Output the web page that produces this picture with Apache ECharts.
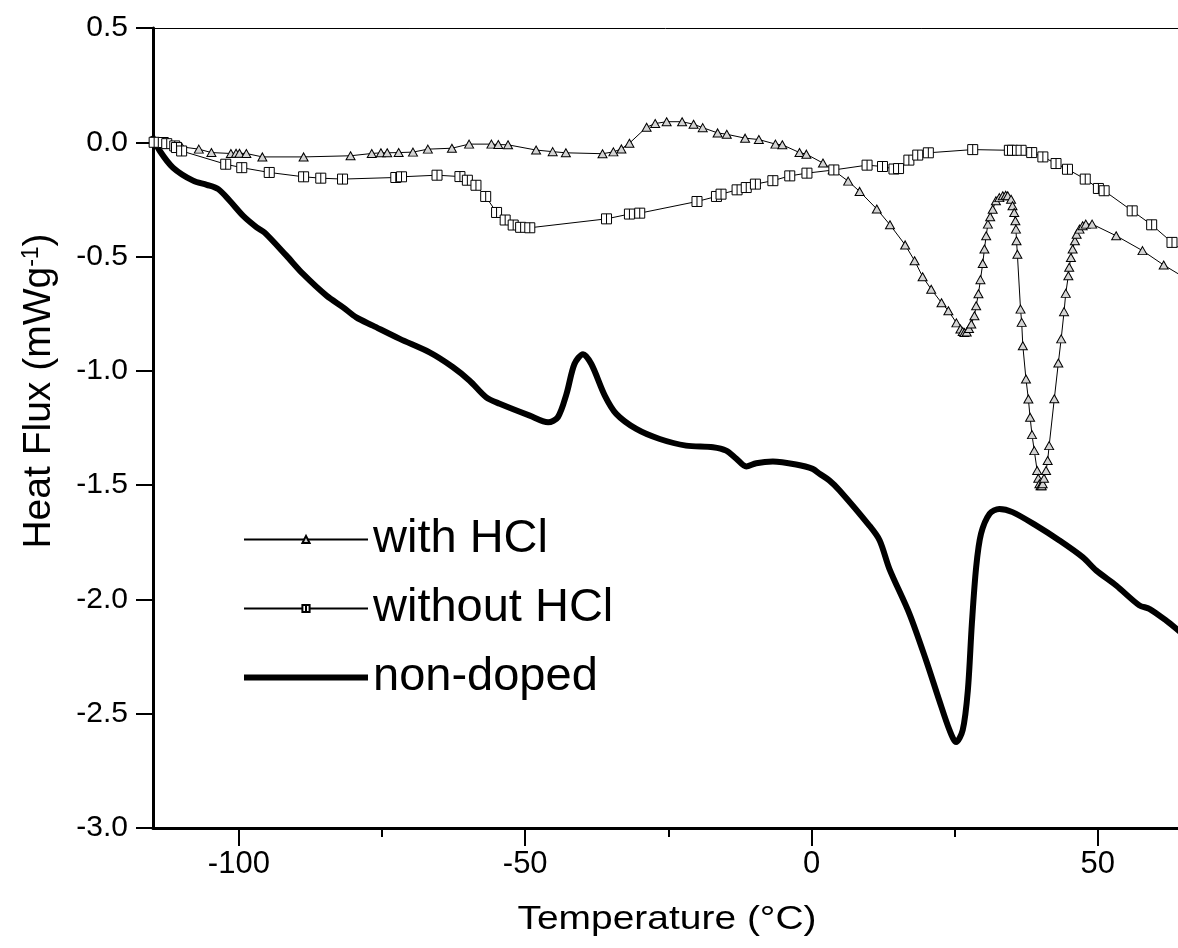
<!DOCTYPE html>
<html>
<head>
<meta charset="utf-8">
<script src="https://cdn.jsdelivr.net/npm/echarts@6/dist/echarts.min.js"></script>
<style>
  html, body { margin: 0; padding: 0; background: #fff; }
  #chart { width: 1178px; height: 948px; }
</style>
</head>
<body>
<div id="chart"></div>
<script>
// tick positions on the temperature axis
var xMajorTicks = [-100, -50, 0, 50];
var xMinorTicks = [-75, -25, 25];

// [temperature, heat flux]
var withHcl = [
  [-114.6, 0.00], [-112.5, -0.01], [-110.0, -0.02], [-107.0, -0.03], [-104.8, -0.045],
  [-101.4, -0.049], [-100.5, -0.048], [-99.9, -0.048], [-98.7, -0.049], [-95.9, -0.064],
  [-88.7, -0.064], [-80.5, -0.059], [-76.8, -0.049], [-75.2, -0.046], [-74.1, -0.046],
  [-72.1, -0.045], [-69.6, -0.043], [-67.0, -0.030], [-62.8, -0.026], [-59.8, -0.008],
  [-55.9, -0.008], [-54.7, -0.010], [-53.0, -0.011], [-48.1, -0.034], [-45.2, -0.041],
  [-42.9, -0.046], [-36.5, -0.050], [-34.6, -0.042], [-33.2, -0.029], [-31.8, -0.004],
  [-28.8, 0.066], [-27.3, 0.082], [-25.3, 0.090], [-22.6, 0.090], [-20.6, 0.079],
  [-19.0, 0.064], [-16.4, 0.041], [-14.8, 0.035], [-11.6, 0.018], [-9.2, 0.012],
  [-6.3, -0.008], [-5.1, -0.011], [-2.1, -0.045], [-0.9, -0.052], [2.0, -0.091],
  [3.7, -0.120], [6.4, -0.170], [8.4, -0.215], [11.4, -0.292], [13.7, -0.361],
  [16.35, -0.449], [18.0, -0.518], [19.4, -0.588], [20.9, -0.643], [22.7, -0.702],
  [23.9, -0.737], [25.3, -0.790], [26.0, -0.817], [26.4, -0.828], [26.7, -0.832],
  [27.1, -0.830], [27.5, -0.815], [27.9, -0.795], [28.45, -0.759], [28.75, -0.715],
  [29.15, -0.663], [29.5, -0.601], [29.9, -0.530], [30.2, -0.467], [30.5, -0.409],
  [30.8, -0.358], [31.2, -0.326], [31.64, -0.293], [32.2, -0.256], [32.8, -0.242],
  [33.4, -0.234], [33.9, -0.232], [34.26, -0.234], [34.85, -0.249], [35.1, -0.278],
  [35.4, -0.307], [35.6, -0.343], [35.7, -0.380], [35.8, -0.431], [35.95, -0.490],
  [36.5, -0.730], [36.7, -0.788], [36.9, -0.890], [37.45, -1.036], [37.87, -1.123],
  [38.17, -1.203], [38.5, -1.279], [38.9, -1.349], [39.4, -1.436], [39.6, -1.470],
  [39.8, -1.494], [40.0, -1.503], [40.2, -1.503], [40.37, -1.494], [40.6, -1.470],
  [40.96, -1.436], [41.24, -1.392], [41.5, -1.327], [42.4, -1.122], [43.1, -0.966],
  [43.6, -0.860], [44.1, -0.741], [44.4, -0.661], [44.85, -0.584], [45.0, -0.547],
  [45.3, -0.504], [45.6, -0.467], [46.0, -0.431], [46.3, -0.402], [46.8, -0.380],
  [47.35, -0.365], [47.9, -0.358], [49.0, -0.358], [53.2, -0.409], [57.8, -0.474],
  [61.5, -0.537], [65.0, -0.590]
];

var withoutHcl = [
  [-114.8, 0.00], [-113.2, -0.001], [-112.6, -0.006], [-111.2, -0.016], [-110.9, -0.023],
  [-110.0, -0.038], [-102.3, -0.096], [-99.5, -0.111], [-94.7, -0.132], [-88.7, -0.151],
  [-85.7, -0.157], [-81.9, -0.161], [-72.6, -0.154], [-71.6, -0.151], [-65.4, -0.144],
  [-61.4, -0.150], [-60.1, -0.166], [-58.6, -0.188], [-56.9, -0.237], [-55.0, -0.307],
  [-53.5, -0.340], [-52.1, -0.362], [-50.8, -0.372], [-49.2, -0.374], [-35.8, -0.335],
  [-31.8, -0.314], [-30.0, -0.310], [-20.0, -0.259], [-16.6, -0.237], [-15.8, -0.227],
  [-13.0, -0.208], [-11.4, -0.198], [-9.8, -0.183], [-6.75, -0.168], [-3.8, -0.147],
  [-0.8, -0.135], [3.9, -0.121], [9.7, -0.100], [12.4, -0.106], [14.4, -0.117],
  [15.2, -0.115], [17.0, -0.078], [18.55, -0.056], [20.4, -0.046], [28.15, -0.032],
  [34.55, -0.035], [35.1, -0.035], [36.6, -0.035], [38.45, -0.045], [40.4, -0.064],
  [42.7, -0.093], [44.7, -0.118], [47.8, -0.161], [50.1, -0.202], [51.1, -0.212],
  [56.0, -0.300], [59.4, -0.361], [62.95, -0.438], [66.0, -0.500]
];

var nonDoped = [
  [-115.2, 0.028], [-113.8, -0.038], [-111.5, -0.111], [-108.0, -0.168], [-105.6, -0.186],
  [-103.6, -0.205], [-101.6, -0.256], [-99.25, -0.322], [-96.9, -0.372], [-95.5, -0.395],
  [-91.7, -0.496], [-88.8, -0.576], [-84.7, -0.671], [-81.8, -0.722], [-79.5, -0.766],
  [-76.6, -0.802], [-71.9, -0.860], [-66.7, -0.919], [-62.6, -0.984], [-59.7, -1.043],
  [-56.8, -1.116], [-54.45, -1.144], [-49.2, -1.196], [-46.0, -1.225], [-44.3, -1.203],
  [-42.8, -1.102], [-41.4, -0.970], [-39.9, -0.927], [-38.45, -0.970], [-36.1, -1.108],
  [-34.1, -1.188], [-30.6, -1.254], [-26.5, -1.298], [-21.9, -1.327], [-17.2, -1.334],
  [-14.9, -1.349], [-13.1, -1.385], [-11.4, -1.418], [-9.65, -1.404], [-6.75, -1.397],
  [-2.7, -1.410], [0.2, -1.429], [1.4, -1.450], [3.1, -1.479], [4.9, -1.523],
  [10.1, -1.677], [11.9, -1.742], [13.6, -1.866], [17.1, -2.063], [20.0, -2.266],
  [22.3, -2.441], [24.1, -2.572], [25.25, -2.624], [26.4, -2.572], [27.3, -2.398],
  [28.0, -2.107], [28.75, -1.859], [29.6, -1.713], [31.1, -1.625], [32.8, -1.604],
  [35.1, -1.618], [39.2, -1.676], [43.3, -1.742], [47.35, -1.815], [49.7, -1.873],
  [53.2, -1.939], [57.25, -2.026], [59.0, -2.041], [61.9, -2.092], [64.5, -2.145]
];

var font = 'Liberation Sans, Arial, Helvetica, sans-serif';
// square with a bar down the middle, like the original markers
var boxSymbol = 'path://M0 0H10V10H0ZM5 0V10';

var chart = echarts.init(document.getElementById('chart'));
var option = {
    animation: false,
    backgroundColor: '#fff',
    textStyle: { fontFamily: font, color: '#000' },
    grid: { left: 153, right: 0, top: 28, bottom: 120 },
    // x title is a little wider than plain Arial in the original
    graphic: [
        {
            type: 'text',
            x: 667,
            y: 920,
            scaleX: 1.18,
            style: {
                text: 'Temperature (°C)',
                fontSize: 33,
                fontFamily: font,
                fill: '#000',
                align: 'center',
                verticalAlign: 'middle'
            }
        }
    ],
    legend: {
        orient: 'vertical',
        left: 243,
        top: 516,
        padding: 0,
        itemWidth: 124,
        itemHeight: 9,
        itemGap: 22,
        textStyle: { fontSize: 47, color: '#000', fontFamily: font },
        data: [
            { name: 'with HCl' },
            { name: 'without HCl' },
            { name: 'non-doped', icon: 'path://M0 0H124V6H0Z' }
        ]
    },
    xAxis: [
        {
            type: 'value',
            position: 'bottom',
            min: -115,
            max: 64,
            axisLine: { show: true, onZero: false, lineStyle: { color: '#000', width: 3 } },
            axisTick: { show: true, customValues: xMajorTicks, length: 18, lineStyle: { color: '#000', width: 2 } },
            axisLabel: { customValues: xMajorTicks, fontSize: 31, color: '#000', margin: 21, fontFamily: font },
            splitLine: { show: false }
        },
        {
            // short ticks between the labelled ones
            type: 'value',
            position: 'bottom',
            min: -115,
            max: 64,
            axisLine: { show: false, onZero: false },
            axisTick: { show: true, customValues: xMinorTicks, length: 9, lineStyle: { color: '#000', width: 2 } },
            axisLabel: { show: false },
            splitLine: { show: false }
        },
        {
            // thin frame line on top
            type: 'value',
            position: 'top',
            min: -115,
            max: 64,
            axisLine: { show: true, onZero: false, lineStyle: { color: '#000', width: 1 } },
            axisTick: { show: false },
            axisLabel: { show: false },
            splitLine: { show: false }
        }
    ],
    yAxis: {
        type: 'value',
        min: -3,
        max: 0.5,
        interval: 0.5,
        name: '{t|Heat Flux (mWg}{s|-1}{t|)}',
        nameLocation: 'middle',
        nameGap: 94,
        nameTextStyle: {
            padding: [0, 0, 0, 74],
            rich: {
                t: { fontSize: 39, color: '#000', fontFamily: font },
                s: { fontSize: 23, color: '#000', fontFamily: font, verticalAlign: 'top', padding: [0, 0, 16, 0] }
            }
        },
        axisLine: { show: true, onZero: false, lineStyle: { color: '#000', width: 3 } },
        axisTick: { show: true, length: 17, lineStyle: { color: '#000', width: 2 } },
        axisLabel: {
            fontSize: 30,
            color: '#000',
            margin: 25,
            fontFamily: font,
            formatter: function (v) { return v.toFixed(1); }
        },
        splitLine: { show: false }
    },
    series: [
        {
            name: 'with HCl',
            type: 'line',
            data: withHcl,
            symbol: 'triangle',
            symbolSize: [9, 8],
            itemStyle: { color: '#d4d4d4', borderColor: '#000', borderWidth: 1 },
            lineStyle: { color: '#000', width: 1 },
            z: 3
        },
        {
            name: 'without HCl',
            type: 'line',
            data: withoutHcl,
            symbol: boxSymbol,
            symbolSize: 10,
            itemStyle: { color: '#fff', borderColor: '#000', borderWidth: 1 },
            lineStyle: { color: '#000', width: 1 },
            z: 3
        },
        {
            name: 'non-doped',
            type: 'line',
            data: nonDoped,
            symbol: 'none',
            smooth: 0.3,
            itemStyle: { color: '#000' },
            lineStyle: { color: '#000', width: 6 },
            z: 2
        }
    ]
};
chart.setOption(option);
</script>
</body>
</html>
